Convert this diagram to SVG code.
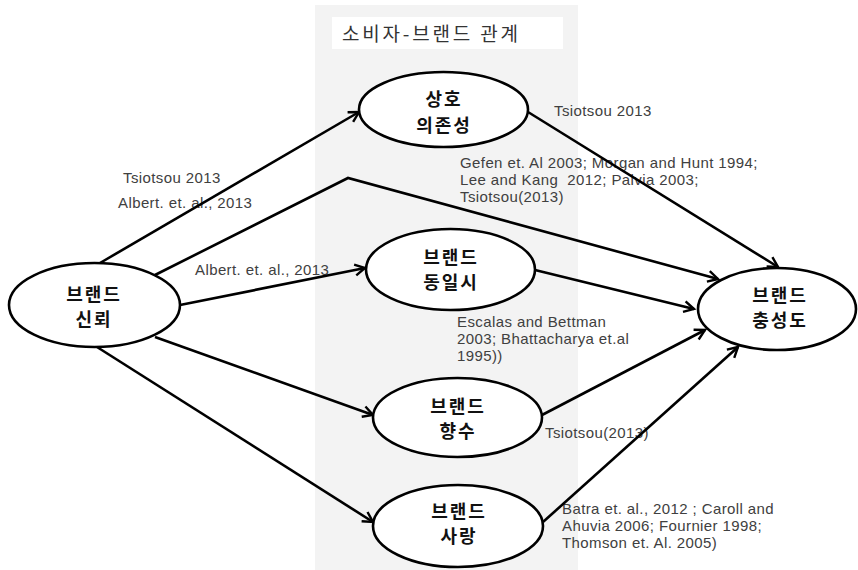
<svg xmlns="http://www.w3.org/2000/svg" width="858" height="570" viewBox="0 0 858 570">
  <style>
    .node ellipse { fill: #ffffff; stroke: #000000; stroke-width: 2.6; }
    .node text { font-family: "Noto Sans CJK KR", "Noto Sans", sans-serif; font-weight: bold; font-size: 18px; fill: #111111; text-anchor: middle; letter-spacing: 2px; }
    .conn { fill: none; stroke: #000000; stroke-width: 2.6; marker-end: url(#arrow); }
    .lbl { font-family: "Liberation Sans", "Noto Sans CJK KR", sans-serif; font-size: 15px; fill: #404040; letter-spacing: 0.4px; }
    .title { font-family: "Noto Sans CJK KR", "Noto Sans", sans-serif; font-size: 19px; fill: #333333; letter-spacing: 2.8px; }
  </style>
  <defs>
    <marker id="arrow" markerUnits="userSpaceOnUse" markerWidth="16" markerHeight="16" refX="11" refY="6" orient="auto" overflow="visible">
      <path d="M1,0.5 L11,6 L1,11.5" fill="none" stroke="#000000" stroke-width="2.4" stroke-linejoin="miter"/>
    </marker>
  </defs>

  <rect width="858" height="570" fill="#ffffff"/>
  <!-- panel -->
  <rect x="315" y="5" width="263" height="565" fill="#f3f3f3"/>
  <g id="title">
    <rect x="332" y="17" width="231" height="32" fill="#ffffff"/>
    <text class="title" x="342" y="41">소비자-브랜드 관계</text>
  </g>

  <g id="labels">
    <text class="lbl" x="123" y="183">Tsiotsou 2013</text>
    <text class="lbl" x="118" y="208">Albert. et. al., 2013</text>
    <text class="lbl" x="195" y="275">Albert. et. al., 2013</text>
    <text class="lbl" x="554" y="116">Tsiotsou 2013</text>
    <text class="lbl" x="460" y="167.5">Gefen et. Al 2003; Morgan and Hunt 1994;</text>
    <text class="lbl" x="460" y="184.5" xml:space="preserve">Lee and Kang  2012; Palvia 2003;</text>
    <text class="lbl" x="460" y="201.5">Tsiotsou(2013)</text>
    <text class="lbl" x="457" y="327">Escalas and Bettman</text>
    <text class="lbl" x="457" y="344">2003; Bhattacharya et.al</text>
    <text class="lbl" x="457" y="361">1995))</text>
    <text class="lbl" x="545" y="438">Tsiotsou(2013)</text>
    <text class="lbl" x="562" y="513.5">Batra et. al., 2012 ; Caroll and</text>
    <text class="lbl" x="562" y="530.5">Ahuvia 2006; Fournier 1998;</text>
    <text class="lbl" x="562" y="547.5">Thomson et. Al. 2005)</text>
  </g>

  <g id="connectors">
    <line class="conn" x1="100" y1="263" x2="359" y2="112"/>
    <polyline class="conn" points="155,275 348,178 718,279"/>
    <line class="conn" x1="180" y1="305" x2="365" y2="268"/>
    <line class="conn" x1="155" y1="337" x2="373" y2="415"/>
    <line class="conn" x1="97" y1="347" x2="373" y2="522"/>
    <line class="conn" x1="528" y1="112" x2="778" y2="267"/>
    <line class="conn" x1="535" y1="270" x2="694" y2="309"/>
    <line class="conn" x1="542" y1="415" x2="705" y2="330"/>
    <line class="conn" x1="543" y1="522" x2="738" y2="347"/>
  </g>

  <g id="node-trust" class="node">
    <ellipse cx="94.5" cy="305" rx="85.5" ry="42"/>
    <text x="94" y="301">브랜드</text>
    <text x="94" y="326">신뢰</text>
  </g>
  <g id="node-interdependence" class="node">
    <ellipse cx="443.5" cy="109.5" rx="84.5" ry="37.5"/>
    <text x="444" y="106">상호</text>
    <text x="444" y="132">의존성</text>
  </g>
  <g id="node-identification" class="node">
    <ellipse cx="450.5" cy="269.5" rx="84.5" ry="40.5"/>
    <text x="451" y="264">브랜드</text>
    <text x="451" y="289">동일시</text>
  </g>
  <g id="node-nostalgia" class="node">
    <ellipse cx="457.5" cy="417.5" rx="84.5" ry="39.5"/>
    <text x="458" y="413">브랜드</text>
    <text x="458" y="438">향수</text>
  </g>
  <g id="node-love" class="node">
    <ellipse cx="458" cy="526" rx="85" ry="41"/>
    <text x="459" y="518">브랜드</text>
    <text x="459" y="543">사랑</text>
  </g>
  <g id="node-loyalty" class="node">
    <ellipse cx="777" cy="309" rx="79" ry="41"/>
    <text x="780" y="302">브랜드</text>
    <text x="780" y="327">충성도</text>
  </g>
</svg>
